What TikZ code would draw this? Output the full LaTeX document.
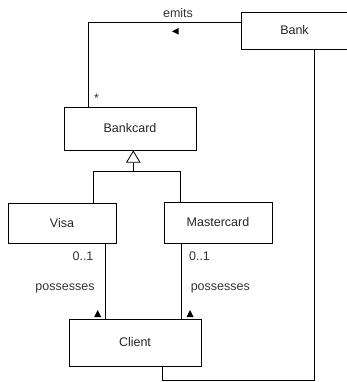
\documentclass[tikz,border=0pt]{standalone}
\usepackage{fontspec}
\setmainfont{Liberation Sans}
\usetikzlibrary{arrows.meta}
\begin{document}
\begin{tikzpicture}[x=1pt,y=-1pt,
  cls/.style={draw=black,line width=0.8pt,fill=white,inner sep=0pt,font=\fontsize{12.5}{14}\selectfont,text=black!85},
  lbl/.style={inner sep=0pt,font=\fontsize{12.5}{14}\selectfont,text=black!80},
  conn/.style={draw=black,line width=0.8pt},
  gen/.style={conn,-{Triangle[open,width=14.6pt,length=12.3pt,line width=0.8pt]}},
  tip/.style={fill=black,draw=none}]
\useasboundingbox (0,0) rectangle (347,382);
% classes
\node[cls,minimum width=107pt,minimum height=37pt] (bank) at (294.5,30.5) {Bank};
\node[cls,minimum width=132pt,minimum height=43pt] (bankcard) at (130,128.5) {Bankcard};
\node[cls,minimum width=108pt,minimum height=40pt] (visa) at (62,223) {Visa};
\node[cls,minimum width=108pt,minimum height=41pt] (master) at (218,222.5) {Mastercard};
\node[cls,minimum width=132pt,minimum height=47pt] (client) at (135,342.5) {Client};
% emits association
\coordinate (e1) at (88.7,22.3);
\draw[conn] (bank.west |- e1) -- (e1) -- (e1 |- bankcard.north);
\node[lbl] (emits) at (178,13) {emits};
\fill[tip] (172,31.3) -- (178.5,28) -- (178.5,34.6) -- cycle;
\node[lbl] (star) at (96.5,98) {*};
% generalization
\coordinate (gj) at (133.3,171.7);
\draw[conn] ([xshift=31.7pt]visa.north) |- (gj);
\draw[conn] ([xshift=-37.7pt]master.north) |- (gj);
\draw[gen] (gj) -- (gj |- bankcard.south);
% possesses associations
\draw[conn] ([xshift=43.3pt]visa.south) -- ([xshift=43.3pt]visa.south |- client.north);
\draw[conn] ([xshift=-36.7pt]master.south) -- ([xshift=-36.7pt]master.south |- client.north);
\node[lbl] (m1) at (83,256) {0..1};
\node[lbl] (m2) at (199.5,256) {0..1};
\node[lbl] (p1) at (65,288) {possesses};
\node[lbl] (p2) at (220.3,288) {possesses};
\fill[tip] (94.2,317) -- (97.7,310) -- (101.2,317) -- cycle;
\fill[tip] (186.5,317) -- (190,310) -- (193.5,317) -- cycle;
% client - bank association
\coordinate (cb) at (314.3,380.7);
\draw[conn] ([xshift=27.3pt]client.south) |- (cb) -- (cb |- bank.south);
\end{tikzpicture}
\end{document}
